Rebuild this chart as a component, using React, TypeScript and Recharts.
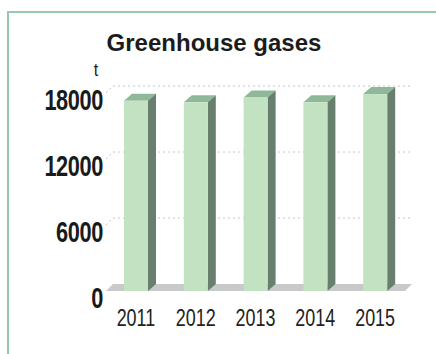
import React from 'react';
import { BarChart, Bar, XAxis, YAxis, CartesianGrid, ReferenceArea } from 'recharts';

const years = ['2011', '2012', '2013', '2014', '2015'];
const emissions = [17300, 17150, 17600, 17150, 17900];
const yTicks = [0, 6000, 12000, 18000];

const data = years.map((year, i) => ({ year, value: emissions[i] }));

const DX = 7; // depth offset of the 3D effect
const DY = 7;
const FONT = '"Liberation Sans", Arial, sans-serif';

const Bar3D = (props: any) => {
  const { x, y, width, height } = props;
  const fx = x - DX;
  const fy = y + DY;
  const fb = fy + height;
  const d = 8;
  return (
    <g>
      <polygon
        points={`${fx},${fy} ${fx + d},${fy - DY} ${fx + width + d},${fy - DY} ${fx + width},${fy}`}
        fill="#8fb89a"
      />
      <polygon
        points={`${fx + width},${fy} ${fx + width + d},${fy - DY} ${fx + width + d},${fb - DY} ${fx + width},${fb}`}
        fill="#677f6c"
      />
      <rect x={fx} y={fy} width={width} height={height} fill="#c3e2c2" />
    </g>
  );
};

const Floor = (props: any) => {
  const { x, y, width, height } = props;
  const b = y + height;
  return (
    <polygon
      points={`${x},${b} ${x + width},${b} ${x + width - DX},${b + DY} ${x - DX},${b + DY}`}
      fill="#c8c9cb"
    />
  );
};

const GridLine = (props: any) => {
  const { x1, x2, y1 } = props;
  if (Math.abs(y1 - 284) < 1) return <g />;
  return (
    <g>
      <line x1={x1 - DX} y1={y1 + DY} x2={x1} y2={y1} stroke="#c6c6c6" strokeDasharray="2 3" />
      <line x1={x1} y1={y1} x2={x2} y2={y1} stroke="#c6c6c6" strokeDasharray="2 3" />
    </g>
  );
};

const YTick = (props: any) => {
  const { y, payload } = props;
  return (
    <g transform={`translate(103,${y + 24})`}>
      <text
        transform="scale(0.75,1)"
        textAnchor="end"
        fontFamily={FONT}
        fontWeight="bold"
        fontSize={29}
        letterSpacing={-0.5}
        fill="#1a1a1a"
      >
        {payload.value}
      </text>
    </g>
  );
};

const XTick = (props: any) => {
  const { x, payload } = props;
  return (
    <g transform={`translate(${x - DX},326)`}>
      <text transform="scale(0.78,1)" textAnchor="middle" fontFamily={FONT} fontSize={23} fill="#222">
        {payload.value}
      </text>
    </g>
  );
};

export default function App() {
  return (
    <div style={{ position: 'absolute', left: 0, top: 0, width: 436, height: 354, overflow: 'hidden', background: '#fff' }}>
      <div
        style={{
          position: 'absolute',
          left: 7,
          top: 11,
          width: 500,
          height: 400,
          border: '2px solid #98c9ae',
        }}
      />
      <svg width={436} height={354} style={{ position: 'absolute', left: 0, top: 0 }}>
        <text x={214} y={51} textAnchor="middle" fontFamily={FONT} fontWeight="bold" fontSize={24} fill="#1c1c1c">
          Greenhouse gases
        </text>
        <g transform="translate(96,76)">
          <text transform="scale(0.85,1)" textAnchor="middle" fontFamily={FONT} fontSize={19} fill="#1c1c1c">
            t
          </text>
        </g>
      </svg>
      <div style={{ position: 'absolute', left: 0, top: 0 }}>
        <BarChart width={436} height={354} data={data} margin={{ top: 86, right: 24, bottom: 40, left: 53 }}>
          <CartesianGrid vertical={false} horizontal={(p: any) => <GridLine {...p} />} />
          <ReferenceArea y1={0} y2={18000} shape={(p: any) => <Floor {...p} />} fillOpacity={1} ifOverflow="visible" />
          <XAxis dataKey="year" axisLine={false} tickLine={false} height={30} tick={(p: any) => <XTick {...p} />} />
          <YAxis
            domain={[0, 18000]}
            ticks={yTicks}
            width={60}
            axisLine={false}
            tickLine={false}
            tick={(p: any) => <YTick {...p} />}
          />
          <Bar dataKey="value" barSize={24} shape={(p: any) => <Bar3D {...p} />} isAnimationActive={false} />
        </BarChart>
      </div>
    </div>
  );
}
